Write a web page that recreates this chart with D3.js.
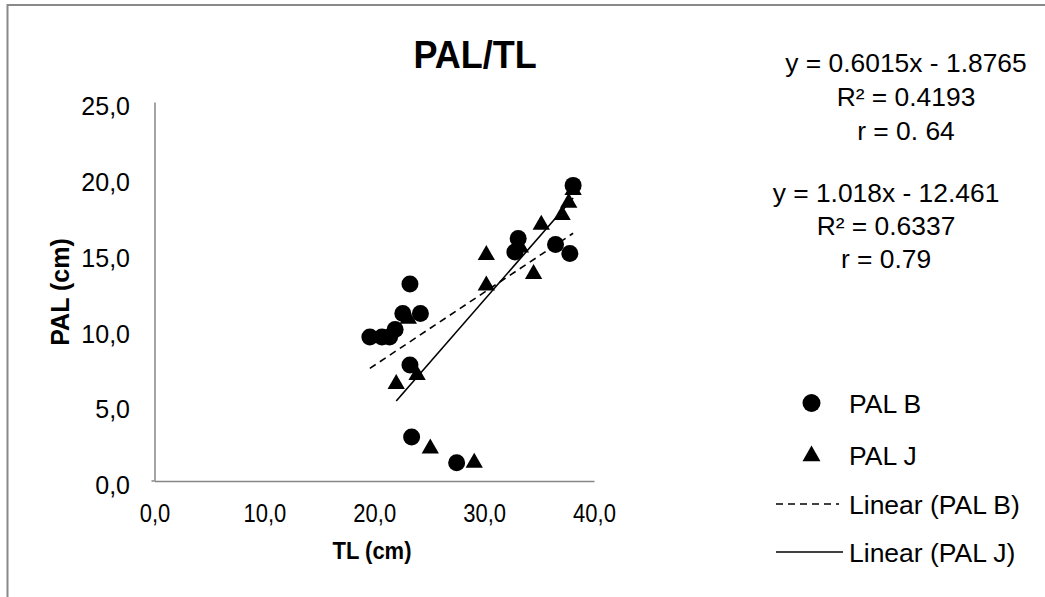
<!DOCTYPE html>
<html>
<head>
<meta charset="utf-8">
<script src="https://cdn.jsdelivr.net/npm/d3@7"></script>
<style>
  body { margin: 0; background: #fff; }
  text { font-family: "Liberation Sans", Arial, sans-serif; fill: #000; }
</style>
</head>
<body>
<div id="container"></div>
<script>
/* DATA */
const palB_TL  = [19.6, 20.7, 21.4, 21.9, 22.6, 23.25, 24.2, 23.25, 23.4, 27.5, 32.8, 33.1, 36.5, 37.8, 38.1];
const palB_PAL = [9.5, 9.5, 9.5, 10.0, 11.05, 13.0, 11.05, 7.65, 2.9, 1.2, 15.1, 16.0, 15.6, 15.0, 19.5];

const palJ_TL  = [22.0, 23.1, 23.9, 25.1, 29.1, 30.2, 30.2, 33.3, 34.5, 35.2, 37.1, 37.7, 38.1];
const palJ_PAL = [6.4, 10.7, 7.0, 2.15, 1.2, 14.9, 12.9, 15.4, 13.65, 16.9, 17.55, 18.35, 19.2];

// trendline ends
const trendB_TL  = [19.6, 38.1];
const trendB_PAL = [7.43, 16.34];
const trendJ_TL  = [22.0, 38.1];
const trendJ_PAL = [5.28, 18.67];

const xTicks = [0, 10, 20, 30, 40];
const yTicks = [0, 5, 10, 15, 20, 25];

const eqB = ["y = 0.6015x - 1.8765", "R\u00b2 = 0.4193", "r = 0. 64"];
const eqJ = ["y = 1.018x - 12.461", "R\u00b2 = 0.6337", "r = 0.79"];

const legendItems = ["PAL B", "PAL J", "Linear (PAL B)", "Linear (PAL J)"];

/* CONSTANTS */
const width = 1045, height = 597;
const plot = { left: 154.5, right: 594, top: 102, bottom: 481 };
const fmt = d => d.toFixed(1).replace(".", ",");
const stretch = 1.18; // x tick labels look taller than wide

const svg = d3.select("#container").append("svg")
  .attr("width", width)
  .attr("height", height)
  .style("display", "block");

// chart border (cut off at right and bottom)
svg.append("rect")
  .attr("x", 7.5).attr("y", 5)
  .attr("width", 1100).attr("height", 700)
  .attr("fill", "none")
  .attr("stroke", "#898989")
  .attr("stroke-width", 2);

/* SCALES */
const x = d3.scaleLinear().domain([0, 40]).range([plot.left, plot.right]);
const y = d3.scaleLinear().domain([0, 25]).range([plot.bottom, plot.top]);

/* AXES */
const xAxis = svg.append("g")
  .attr("transform", `translate(0,${plot.bottom})`)
  .call(d3.axisBottom(x).tickValues(xTicks).tickFormat(fmt).tickSize(0));
const yAxis = svg.append("g")
  .attr("transform", `translate(${plot.left},0)`)
  .call(d3.axisLeft(y).tickValues(yTicks).tickFormat(fmt).tickSize(0));

[xAxis, yAxis].forEach(g => {
  g.select(".domain").attr("stroke", "#868686").attr("stroke-width", 1.5);
  g.selectAll("text")
    .style("font-family", "'Liberation Sans', Arial, sans-serif")
    .attr("fill", "#000");
});
xAxis.selectAll("text")
  .style("font-size", "22px")
  .attr("y", 32 / stretch)
  .attr("dy", "0.35em")
  .attr("transform", `scale(1,${stretch})`);
yAxis.selectAll("text")
  .style("font-size", "25px")
  .attr("x", -24.5)
  .attr("y", 4)
  .attr("dy", "0.35em");

// small stub where the axes meet
svg.append("line")
  .attr("x1", plot.left - 3).attr("x2", plot.left)
  .attr("y1", plot.bottom).attr("y2", plot.bottom)
  .attr("stroke", "#868686").attr("stroke-width", 1.5);

/* TITLES */
svg.append("text")
  .attr("transform", "translate(475,68) scale(1,1.06)")
  .attr("text-anchor", "middle")
  .style("font-size", "36px").style("font-weight", "bold")
  .text("PAL/TL");

svg.append("text")
  .attr("transform", "translate(372,559) scale(1,1.06)")
  .attr("text-anchor", "middle")
  .style("font-size", "22px").style("font-weight", "bold")
  .text("TL (cm)");

svg.append("text")
  .attr("transform", "translate(69,292) rotate(-90)")
  .attr("text-anchor", "middle")
  .style("font-size", "25px").style("font-weight", "bold")
  .text("PAL (cm)");

/* TRENDLINES */
const line = d3.line().x(d => x(d[0])).y(d => y(d[1]));

svg.append("path")
  .datum(d3.zip(trendB_TL, trendB_PAL))
  .attr("d", line)
  .attr("fill", "none").attr("stroke", "#000")
  .attr("stroke-width", 1.6)
  .attr("stroke-dasharray", "7,5");

svg.append("path")
  .datum(d3.zip(trendJ_TL, trendJ_PAL))
  .attr("d", line)
  .attr("fill", "none").attr("stroke", "#000")
  .attr("stroke-width", 1.6);

/* POINTS */
const triangle = d3.symbol().type(d3.symbolTriangle).size(130);

svg.selectAll("path.palJ")
  .data(d3.zip(palJ_TL, palJ_PAL))
  .join("path")
  .attr("class", "palJ")
  .attr("d", triangle)
  .attr("fill", "#000")
  .attr("transform", d => `translate(${x(d[0])},${y(d[1])})`);

svg.selectAll("circle.palB")
  .data(d3.zip(palB_TL, palB_PAL))
  .join("circle")
  .attr("class", "palB")
  .attr("r", 8.5)
  .attr("fill", "#000")
  .attr("cx", d => x(d[0]))
  .attr("cy", d => y(d[1]));

/* EQUATION LABELS */
svg.selectAll("text.eqB")
  .data(eqB)
  .join("text")
  .attr("class", "eqB")
  .attr("x", 906)
  .attr("y", (d, i) => 72 + i * 34)
  .attr("text-anchor", "middle")
  .style("font-size", "26.4px")
  .text(d => d);

svg.selectAll("text.eqJ")
  .data(eqJ)
  .join("text")
  .attr("class", "eqJ")
  .attr("x", 886)
  .attr("y", (d, i) => 202 + i * 33)
  .attr("text-anchor", "middle")
  .style("font-size", "26.4px")
  .text(d => d);

/* LEGEND */
const legend = svg.append("g");
const rowY = [403, 455, 504, 552];

legend.append("circle")
  .attr("cx", 811.5).attr("cy", rowY[0]).attr("r", 9);
legend.append("path")
  .attr("d", d3.symbol().type(d3.symbolTriangle).size(140))
  .attr("transform", `translate(811.5,${rowY[1] + 1})`);
legend.append("line")
  .attr("x1", 776).attr("x2", 839)
  .attr("y1", rowY[2]).attr("y2", rowY[2])
  .attr("stroke", "#000").attr("stroke-width", 1.6)
  .attr("stroke-dasharray", "7,5");
legend.append("line")
  .attr("x1", 776).attr("x2", 843)
  .attr("y1", rowY[3]).attr("y2", rowY[3])
  .attr("stroke", "#000").attr("stroke-width", 1.6);

legend.selectAll("text")
  .data(legendItems)
  .join("text")
  .attr("x", 849)
  .attr("y", (d, i) => rowY[i])
  .attr("dy", "0.36em")
  .style("font-size", "26.5px")
  .text(d => d);
</script>
</body>
</html>
